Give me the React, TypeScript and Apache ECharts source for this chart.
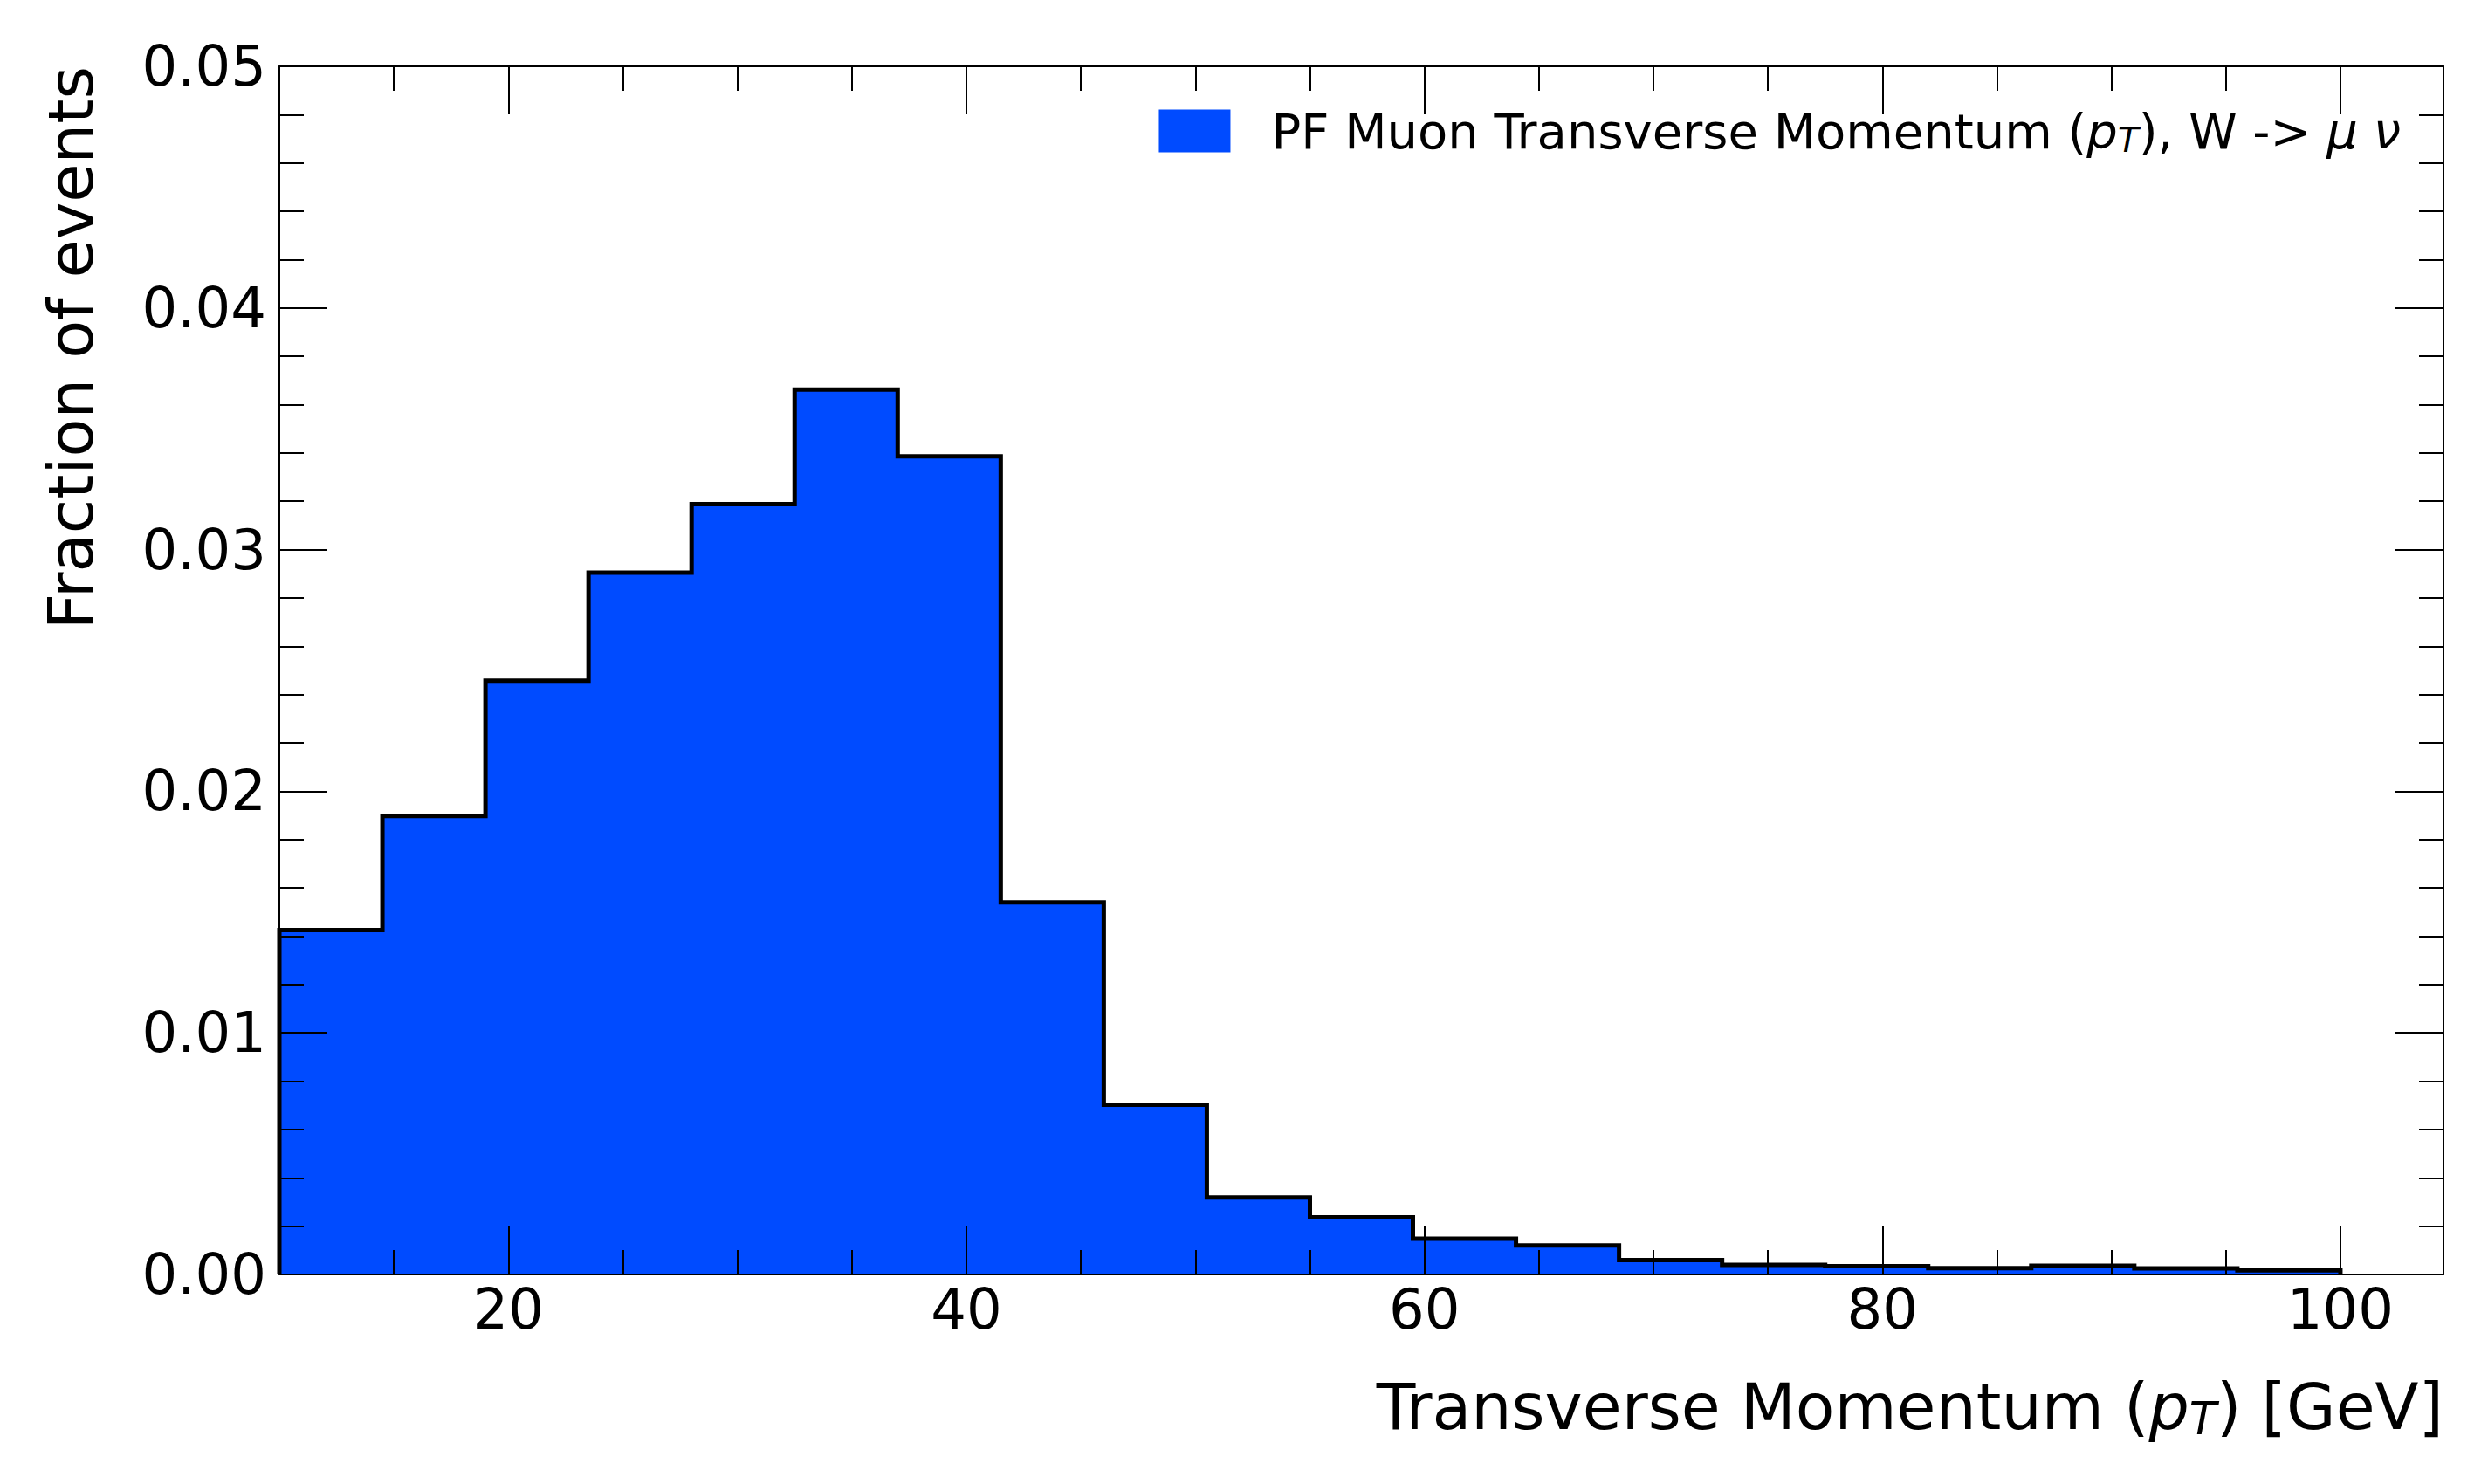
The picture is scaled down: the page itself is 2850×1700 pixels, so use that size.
import React, { useEffect, useRef } from 'react';
import * as echarts from 'echarts';

// ---------- data ----------
const binEdges = [10, 14.5, 19, 23.5, 28, 32.5, 37, 41.5, 46, 50.5, 55, 59.5, 64, 68.5, 73, 77.5, 82, 86.5, 91, 95.5, 100];
const fractions = [
  0.01425, 0.01898, 0.02458, 0.02905, 0.03188, 0.03662, 0.03386, 0.0154, 0.00703, 0.00319,
  0.00237, 0.00148, 0.0012, 0.0006, 0.0004, 0.00034, 0.00026, 0.00036, 0.00025, 0.00017,
];
const xMajorTicks = [20, 40, 60, 80, 100];
const xMinorTicks = [15, 25, 30, 35, 45, 50, 55, 65, 70, 75, 85, 90, 95];
const yMajorTicks = [0, 0.01, 0.02, 0.03, 0.04, 0.05];
const yMinorTicks = [
  0.002, 0.004, 0.006, 0.008, 0.012, 0.014, 0.016, 0.018, 0.022, 0.024, 0.026, 0.028,
  0.032, 0.034, 0.036, 0.038, 0.042, 0.044, 0.046, 0.048,
];
const seriesName = 'PF Muon Transverse Momentum (pT), W -> μ ν';
const yTitle = 'Fraction of events';

// ---------- style ----------
const FONT = "'DejaVu Sans', sans-serif";
const BLUE = '#004bff';
const X_MIN = 10;
const X_MAX = 104.5;
const Y_MIN = 0;
const Y_MAX = 0.05;
const MAJOR_LEN = 55;
const MINOR_LEN = 28;

function xAxisDef(position: string, ticks: number[], len: number, withLine: boolean, withLabels: boolean) {
  return {
    type: 'value',
    position,
    min: X_MIN,
    max: X_MAX,
    z: 10,
    axisLine: { show: withLine, onZero: false, lineStyle: { color: '#000', width: 2 } },
    axisTick: { show: true, inside: true, length: len, customValues: ticks, lineStyle: { color: '#000', width: 2 } },
    axisLabel: withLabels
      ? { show: true, customValues: xMajorTicks, margin: 8, color: '#000', fontSize: 64, fontFamily: FONT, formatter: (v: number) => String(v) }
      : { show: false },
    splitLine: { show: false },
    minorTick: { show: false },
  };
}

function yAxisDef(position: string, ticks: number[], len: number, withLine: boolean, withLabels: boolean) {
  return {
    type: 'value',
    position,
    min: Y_MIN,
    max: Y_MAX,
    z: 10,
    axisLine: { show: withLine, onZero: false, lineStyle: { color: '#000', width: 2 } },
    axisTick: { show: true, inside: true, length: len, customValues: ticks, lineStyle: { color: '#000', width: 2 } },
    axisLabel: withLabels
      ? { show: true, customValues: yMajorTicks, margin: 15, color: '#000', fontSize: 64, fontFamily: FONT, formatter: (v: number) => v.toFixed(2) }
      : { show: false },
    splitLine: { show: false },
    minorTick: { show: false },
  };
}

export default function App() {
  const ref = useRef<HTMLDivElement>(null);

  useEffect(() => {
    document.body.style.margin = '0';
    if (!ref.current) return;
    const chart = echarts.init(ref.current, null, { renderer: 'svg' });

    // histogram outline as step points built from bin edges and values
    const stepData: number[][] = [[binEdges[0], 0]];
    fractions.forEach((f, i) => stepData.push([binEdges[i], f]));
    stepData.push([binEdges[binEdges.length - 1], fractions[fractions.length - 1]]);
    stepData.push([binEdges[binEdges.length - 1], 0]);

    const legendRich = {
      n: { fontFamily: FONT, fontSize: 56, color: '#000', lineHeight: 60, verticalAlign: 'middle' },
      i: { fontFamily: FONT, fontSize: 56, fontStyle: 'italic', color: '#000', lineHeight: 60, verticalAlign: 'middle' },
      s: { fontFamily: FONT, fontSize: 39, fontStyle: 'italic', color: '#000', lineHeight: 36, verticalAlign: 'bottom' },
    };
    const titleRich = {
      n: { fontFamily: FONT, fontSize: 73, fill: '#000', color: '#000', lineHeight: 80, verticalAlign: 'middle' },
      i: { fontFamily: FONT, fontSize: 73, fontStyle: 'italic', fill: '#000', color: '#000', lineHeight: 80, verticalAlign: 'middle' },
      s: { fontFamily: FONT, fontSize: 51, fontStyle: 'italic', fill: '#000', color: '#000', lineHeight: 50, verticalAlign: 'bottom' },
    };

    chart.setOption({
      animation: false,
      backgroundColor: '#fff',
      grid: { left: 320, right: 51, top: 76, bottom: 240, containLabel: false, outerBoundsMode: 'none' },
      xAxis: [
        xAxisDef('bottom', xMajorTicks, MAJOR_LEN, true, true),
        xAxisDef('bottom', xMinorTicks, MINOR_LEN, false, false),
        xAxisDef('top', xMajorTicks, MAJOR_LEN, true, false),
        xAxisDef('top', xMinorTicks, MINOR_LEN, false, false),
      ],
      yAxis: [
        yAxisDef('left', yMajorTicks, MAJOR_LEN, true, true),
        yAxisDef('left', yMinorTicks, MINOR_LEN, false, false),
        yAxisDef('right', yMajorTicks, MAJOR_LEN, true, false),
        yAxisDef('right', yMinorTicks, MINOR_LEN, false, false),
      ],
      legend: {
        show: true,
        right: 100,
        top: 120,
        padding: 0,
        itemWidth: 82,
        itemHeight: 49,
        icon: 'rect',
        selectedMode: false,
        itemStyle: { color: BLUE, borderWidth: 0 },
        data: [{ name: seriesName, icon: 'rect', itemStyle: { color: BLUE, borderWidth: 0 } }],
        formatter: () => '{n|PF Muon Transverse Momentum (}{i|p}{s|T}{n|), W -> }{i|μ}{n| }{i|ν}',
        textStyle: {
          fontFamily: FONT,
          fontSize: 56,
          color: '#000',
          lineHeight: 60,
          padding: [0, 0, 0, 42],
          rich: legendRich,
        },
      },
      graphic: [
        {
          type: 'text',
          x: 2799,
          y: 1611,
          z: 20,
          style: {
            text: '{n|Transverse Momentum (}{i|p}{s|T}{n|) [GeV]}',
            rich: titleRich,
            fontFamily: FONT,
            fontSize: 73,
            fill: '#000',
            align: 'right',
            verticalAlign: 'middle',
            textAlign: 'right',
            textVerticalAlign: 'middle',
          },
        },
        {
          type: 'text',
          x: 81,
          y: 76,
          rotation: Math.PI / 2,
          z: 20,
          style: {
            text: yTitle,
            fontFamily: FONT,
            fontSize: 72,
            fill: '#000',
            align: 'right',
            verticalAlign: 'middle',
            textAlign: 'right',
            textVerticalAlign: 'middle',
          },
        },
      ],
      series: [
        {
          type: 'line',
          name: seriesName,
          xAxisIndex: 0,
          yAxisIndex: 0,
          data: stepData,
          step: 'end',
          symbol: 'none',
          showSymbol: false,
          silent: true,
          z: 2,
          itemStyle: { color: BLUE },
          lineStyle: { color: '#000', width: 5, join: 'miter', cap: 'butt' },
          areaStyle: { color: BLUE, opacity: 1 },
        },
      ],
    });

    return () => {
      chart.dispose();
    };
  }, []);

  return <div ref={ref} style={{ width: 2850, height: 1700 }} />;
}
